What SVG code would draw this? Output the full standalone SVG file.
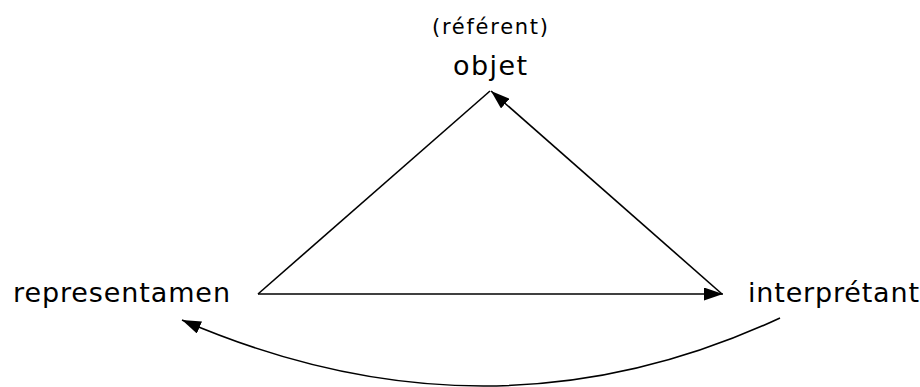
<svg xmlns="http://www.w3.org/2000/svg" width="920" height="387" viewBox="0 0 920 387">
<style>
text{font-family:"DejaVu Sans","Liberation Sans",sans-serif;fill:#000}
.lbl{font-size:27px}
.sub{font-size:21px}
.edge{stroke:#000;stroke-width:1.6;fill:none}
</style>
<defs>
<marker id="arr" viewBox="0 0 10 10" refX="10" refY="5" markerWidth="19" markerHeight="13" markerUnits="userSpaceOnUse" orient="auto" preserveAspectRatio="none">
<path d="M0,0 L10,5 L0,10 z" fill="#000"/>
</marker>
</defs>
<rect width="920" height="387" fill="#fff"/>
<g id="connectors">
<line class="edge" x1="258" y1="294" x2="490" y2="91"/>
<line class="edge" x1="722" y1="294" x2="491" y2="91" marker-end="url(#arr)"/>
<line class="edge" x1="258" y1="294" x2="723" y2="294" marker-end="url(#arr)"/>
<path class="edge" d="M780,318 Q490,453 182,320" marker-end="url(#arr)"/>
</g>
<g id="objet">
<text class="sub" x="490" y="34" text-anchor="middle" textLength="116" lengthAdjust="spacing">(référent)</text>
<text class="lbl" x="490" y="75" text-anchor="middle" textLength="74" lengthAdjust="spacing">objet</text>
</g>
<g id="representamen">
<text class="lbl" x="13" y="302" textLength="217" lengthAdjust="spacing">representamen</text>
</g>
<g id="interpretant">
<text class="lbl" x="748" y="302" textLength="171" lengthAdjust="spacing">interprétant</text>
</g>
</svg>
